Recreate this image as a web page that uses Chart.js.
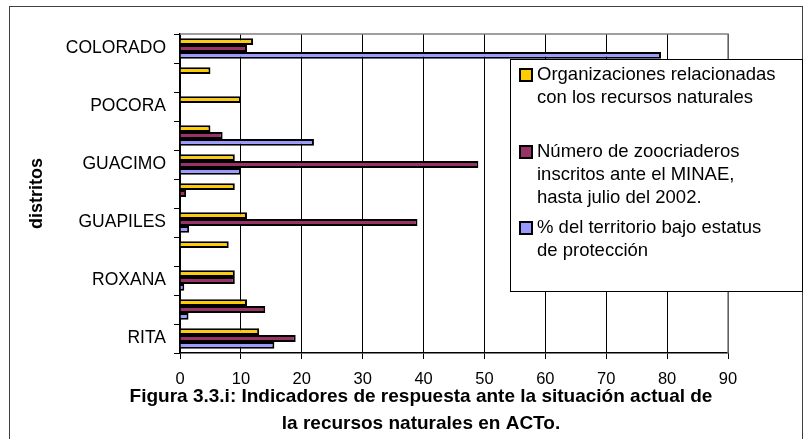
<!DOCTYPE html>
<html>
<head>
<meta charset="utf-8">
<style>
  html, body { margin: 0; padding: 0; background: #fff; }
  #wrap { width: 804px; height: 439px; }
</style>
</head>
<body>
<div id="wrap"><canvas id="myChart"></canvas></div>
<script src="https://cdn.jsdelivr.net/npm/chart.js"></script>
<script>
  // distritos, de arriba hacia abajo (las etiquetas vacias no se ven en el original)
  const districts = ["COLORADO", "", "POCORA", "", "GUACIMO", "", "GUAPILES", "", "ROXANA", "", "RITA"];
  const organizaciones = [12, 5, 10, 5, 9, 9, 11, 8, 9, 11, 13];
  const zoocriaderos = [11, null, null, 7, 49, 1, 39, null, 9, 14, 19];
  const proteccion = [79, null, null, 22, 10, null, 1.5, null, 0.7, 1.4, 15.5];
  const seriesNames = [
    ["Organizaciones relacionadas", "con los recursos naturales"],
    ["Número de zoocriaderos", "inscritos ante el MINAE,", "hasta julio del 2002."],
    ["% del territorio bajo estatus", "de protección"],
  ];
  const xTicks = [0, 10, 20, 30, 40, 50, 60, 70, 80, 90];
  const titleLines = [
    "Figura 3.3.i: Indicadores de respuesta ante la situación actual de",
    "la recursos naturales en ACTo.",
  ];

  const FONT = "'Liberation Sans', Arial, sans-serif";
  Chart.defaults.font.family = FONT;
  Chart.defaults.color = "#000";

  const frame = {
    id: "frame",
    beforeDraw: (chart) => {
      const { ctx } = chart;
      ctx.save();
      ctx.fillStyle = "#fff";
      ctx.fillRect(0, 0, chart.width, chart.height);
      ctx.strokeStyle = "#404040";
      ctx.lineWidth = 1;
      ctx.strokeRect(9.5, 6.5, 793, 440);
      ctx.restore();
    },
    afterDraw: (chart) => {
      const { ctx, chartArea } = chart;
      ctx.save();
      // borde gris del area de trazado
      ctx.strokeStyle = "#808080";
      ctx.lineWidth = 1.5;
      ctx.beginPath();
      ctx.moveTo(chartArea.left, chartArea.top);
      ctx.lineTo(chartArea.right, chartArea.top);
      ctx.lineTo(chartArea.right, chartArea.bottom);
      ctx.stroke();

      // leyenda
      ctx.fillStyle = "#fff";
      ctx.fillRect(510.5, 59.5, 292, 232);
      ctx.strokeStyle = "#000";
      ctx.lineWidth = 1;
      ctx.strokeRect(510.5, 59.5, 292, 232);
      const itemY = [75, 152, 228];
      ctx.font = "18.5px " + FONT;
      ctx.textBaseline = "middle";
      ctx.textAlign = "left";
      chart.data.datasets.forEach((ds, i) => {
        ctx.fillStyle = ds.backgroundColor;
        ctx.fillRect(520, itemY[i] - 6, 12, 12);
        ctx.strokeStyle = "#000";
        ctx.lineWidth = 2;
        ctx.strokeRect(520, itemY[i] - 6, 12, 12);
        ctx.fillStyle = "#000";
        seriesNames[i].forEach((line, j) => {
          ctx.fillText(line, 537, itemY[i] + j * 23);
        });
      });

      // titulo
      ctx.font = "bold 19px " + FONT;
      ctx.textAlign = "center";
      titleLines.forEach((line, j) => {
        ctx.fillText(line, 421, 397 + j * 27);
      });
      ctx.restore();
    },
  };

  new Chart(document.getElementById("myChart"), {
    type: "bar",
    data: {
      labels: districts,
      datasets: [
        { label: seriesNames[0].join(" "), data: organizaciones, backgroundColor: "#FFCC00" },
        { label: seriesNames[1].join(" "), data: zoocriaderos, backgroundColor: "#993366" },
        { label: seriesNames[2].join(" "), data: proteccion, backgroundColor: "#9999FF" },
      ],
    },
    options: {
      indexAxis: "y",
      responsive: true,
      maintainAspectRatio: false,
      animation: false,
      datasets: {
        bar: {
          borderColor: "#000",
          borderWidth: 2,
          categoryPercentage: 0.7,
          barPercentage: 1,
        },
      },
      layout: { padding: { left: 9, top: 34, right: 76, bottom: 50 } },
      scales: {
        x: {
          min: 0,
          max: 90,
          afterFit: (scale) => { scale.height = 36; },
          afterBuildTicks: (scale) => { scale.ticks = xTicks.map((v) => ({ value: v })); },
          ticks: { font: { size: 16.5, lineHeight: 1 }, padding: 12, color: "#000" },
          grid: { color: "#000", lineWidth: 1, tickLength: 6, tickColor: "#000" },
          border: { color: "#000", width: 1.5 },
        },
        y: {
          afterFit: (scale) => { scale.width = 171; },
          ticks: {
            autoSkip: false,
            font: { size: 17.5 },
            padding: 8,
            color: "#000",
            callback: (v, i) => districts[i],
          },
          grid: { drawOnChartArea: false, offset: true, tickLength: 6, color: "#000" },
          border: { color: "#000", width: 1.5 },
          title: {
            display: true,
            text: "distritos",
            font: { size: 18, weight: "bold" },
            padding: { top: 17, bottom: 0 },
            color: "#000",
          },
        },
      },
      plugins: {
        legend: { display: false },
        title: { display: false },
        tooltip: { enabled: false },
      },
    },
    plugins: [frame],
  });
</script>
</body>
</html>
